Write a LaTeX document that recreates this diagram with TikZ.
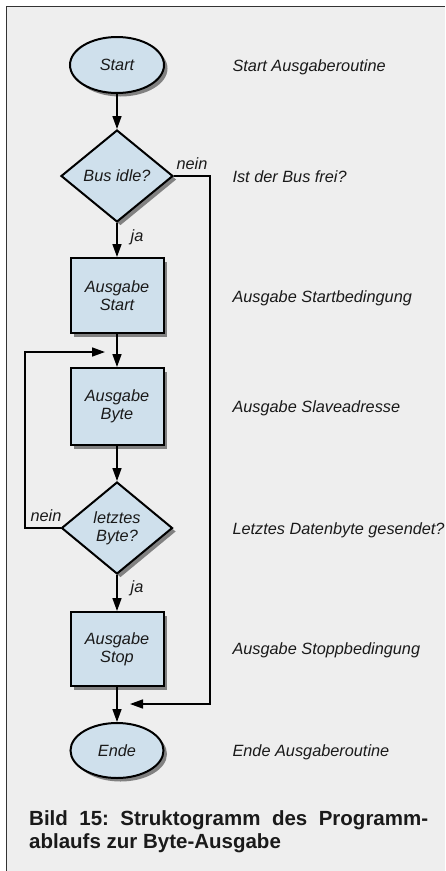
\documentclass[tikz,border=0pt]{standalone}
\usepackage{fontspec}
\setmainfont{Liberation Sans}
\usetikzlibrary{shapes.geometric,shadows,arrows.meta}
\definecolor{bgc}{HTML}{EEEEEE}
\definecolor{framec}{HTML}{333333}
\definecolor{shapec}{HTML}{CFE0EC}
\definecolor{txtc}{HTML}{1A1A1A}
\tikzset{
  lab/.style={font=\itshape\fontsize{16.3}{18}\selectfont, text=txtc, align=center},
  sh/.style={draw=black, line width=2pt, fill=shapec, inner sep=0pt,
    drop shadow={shadow xshift=3.5pt, shadow yshift=-3.5pt, fill=black!60, opacity=0.8}},
  oval/.style={sh, ellipse, lab},
  box/.style={sh, rectangle, lab},
  dia/.style={sh, diamond, shape aspect=1.2, lab},
  conn/.style={line width=1.6pt, -{Triangle[length=13pt,width=9pt]}},
  desc/.style={lab, anchor=base west},
  yn/.style={lab},
  captext/.style={font=\bfseries\frenchspacing\fontsize{20.5}{23}\selectfont, text=txtc, anchor=base west, inner sep=0pt}
}
\begin{document}
\begin{tikzpicture}[x=1pt,y=-1pt]
\useasboundingbox (0,0) rectangle (445,871);
\fill[white] (0,0) rectangle (445,871);
\fill[bgc] (6.5,6.5) rectangle (445,871);
\draw[framec, line width=1.2pt] (6.5,871) -- (6.5,6.5) -- (445,6.5);

\node[oval, minimum width=94pt, minimum height=56pt] (start) at (117,65) {Start};
\node[dia, minimum width=112pt, minimum height=92pt] (bus) at (117,176) {Bus idle?};
\node[box, minimum width=93pt, minimum height=75pt] (bs) at (117,295.5) {Ausgabe\\Start};
\node[box, minimum width=93pt, minimum height=77pt] (bb) at (117,406.5) {Ausgabe\\Byte};
\node[dia, minimum width=111pt, minimum height=92pt] (lb) at (117,528) {letztes\\Byte?};
\node[box, minimum width=93pt, minimum height=74pt] (stop) at (117,649) {Ausgabe\\Stop};
\node[oval, minimum width=93pt, minimum height=55pt] (ende) at (117,750.5) {Ende};

\coordinate (jn) at (130,704);
\coordinate (jl) at (105,352);

\draw[conn] (start) -- (bus);
\draw[conn] (bus) -- (bs);
\draw[conn] (bs) -- (bb);
\draw[conn] (bb) -- (lb);
\draw[conn] (lb) -- (stop);
\draw[conn] (stop) -- (ende);
\draw[conn] (bus.east) -- (210,176) |- (jn);
\draw[conn] (lb.west) -- (25,528) |- (jl);

\node[yn] (nein1) at (192,164) {nein};
\node[yn] (ja1) at (137,237) {ja};
\node[yn] (nein2) at (46,516) {nein};
\node[yn] (ja2) at (137,588) {ja};

\node[desc] (d1) at (229,71) {Start Ausgaberoutine};
\node[desc] (d2) at (229,182) {Ist der Bus frei?};
\node[desc] (d3) at (229,302) {Ausgabe Startbedingung};
\node[desc] (d4) at (229,412) {Ausgabe Slaveadresse};
\node[desc] (d5) at (229,534) {Letztes Datenbyte gesendet?};
\node[desc] (d6) at (229,654) {Ausgabe Stoppbedingung};
\node[desc] (d7) at (229,756) {Ende Ausgaberoutine};

\node[captext] (c1) at (29,825) {\makebox[399pt][s]{Bild 15: Struktogramm des Programm-}};
\node[captext] (c2) at (29,848) {ablaufs zur Byte-Ausgabe};
\end{tikzpicture}
\end{document}
